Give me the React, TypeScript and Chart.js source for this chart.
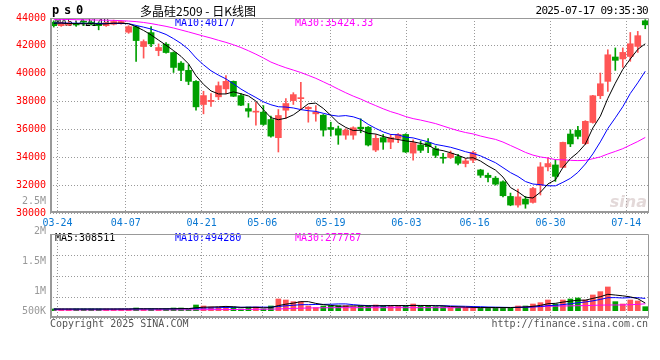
import React, { useEffect, useRef } from 'react';
import { Chart, registerables } from 'chart.js';

Chart.register(...registerables);

// ---------- data ----------
const dates = [
  '03-21','03-24','03-25','03-26','03-27','03-28','03-31','04-01','04-02','04-03',
  '04-07','04-08','04-09','04-10','04-11','04-14','04-15','04-16','04-17','04-18',
  '04-21','04-22','04-23','04-24','04-25','04-28','04-29','04-30','05-06','05-07',
  '05-08','05-09','05-12','05-13','05-14','05-15','05-16','05-19','05-20','05-21',
  '05-22','05-23','05-26','05-27','05-28','05-29','05-30','06-03','06-04','06-05',
  '06-06','06-09','06-10','06-11','06-12','06-13','06-16','06-17','06-18','06-19',
  '06-20','06-23','06-24','06-25','06-26','06-27','06-30','07-01','07-02','07-03',
  '07-04','07-07','07-08','07-09','07-10','07-11','07-14','07-15','07-16','07-17',
];
const labelDates = ['03-24','04-07','04-21','05-06','05-19','06-03','06-16','06-30','07-14'];

const opens = [
  43700,43450,43500,43600,43750,43700,43600,43450,43550,43600,
  42980,43380,41950,42950,41660,42120,41520,40760,40240,39450,
  37790,38000,38340,38910,39450,38430,37500,37240,37240,36710,
  35410,37380,38070,38210,37480,37120,37020,36140,36050,35590,
  35590,36160,36160,34520,35410,35090,35360,35640,34300,34880,
  35050,34620,33980,33980,34050,33550,33790,33090,32710,32500,
  32240,31190,30570,31000,30760,32000,33310,33450,33270,35670,
  35930,34980,36500,38420,39450,41200,41060,41240,41960,43800,
];
const highs = [
  43800,43700,43750,43700,43800,43800,43700,43700,43850,43800,
  43450,43420,42430,43380,42140,42240,41570,40880,40640,39500,
  38740,38570,39410,39860,39480,38570,37860,37950,37710,36950,
  37430,38210,38640,39380,37640,37710,37070,36520,36240,36050,
  36190,36760,36210,35640,35640,35640,35710,35690,35250,35160,
  35340,34810,34290,34450,34210,33910,34450,33140,32860,32620,
  32310,31430,31710,31190,31840,33620,33980,33820,35100,35980,
  36220,36630,38450,40050,41720,41850,41850,42960,43040,43880,
];
const lows = [
  43350,43400,43450,43400,43450,43500,43150,43400,43500,43550,
  42900,40880,41120,41950,41290,41480,40090,39500,39210,37380,
  37120,37660,38140,38570,38360,37710,36880,36310,36290,35450,
  34380,36790,37790,37430,36520,36590,35520,35520,34930,35290,
  35290,35760,34810,34410,34570,34620,35050,34340,33790,34340,
  34340,33980,33570,33910,33450,33310,33620,32550,32240,32000,
  31160,30520,30410,30340,30710,31290,33020,32270,33250,34760,
  35310,34910,36450,38210,38730,40240,40460,40890,41530,43230,
];
const closes = [
  43450,43650,43550,43500,43700,43550,43450,43650,43750,43750,
  43380,42380,42310,42140,41880,41520,40450,40240,39450,37620,
  38430,38090,39140,39450,38380,37740,37310,37310,36360,35520,
  37000,37860,38500,38260,37590,37240,35950,36000,35590,35950,
  36120,36050,34880,35360,35090,35410,35640,34380,35050,34500,
  34760,34140,33930,34290,33570,33740,34340,32710,32550,32070,
  31240,30570,31160,30640,31760,33310,33550,32630,35070,34960,
  35500,36580,38420,39280,41360,40960,41530,42150,42730,43510,
];

const ma5 = [
  43620,43640,43600,43600,43580,43600,43560,43580,43630,43630,
  43590,43376,43107,42786,42412,42046,41660,41246,40707,39856,
  39237,38766,38547,38547,38699,38560,38403,38036,37417,36846,
  36698,36808,37047,37428,37843,37890,37509,37009,36474,36146,
  35923,35943,35719,35671,35500,35357,35276,35176,35114,34996,
  34867,34567,34477,34324,34139,33933,33972,33729,33381,33081,
  32581,31828,31518,31137,31076,31490,32086,32379,33264,33903,
  34341,34947,36106,36947,38229,39320,40310,41056,41746,42149,
];
const ma10 = [
  43640,43640,43630,43630,43620,43620,43610,43610,43610,43605,
  43595,43468,43344,43208,43021,42818,42518,42177,41747,41134,
  40642,40213,39897,39627,39277,38899,38584,38292,37982,37772,
  37629,37606,37541,37423,37344,37294,37159,37028,36951,36994,
  36906,36726,36364,36073,35823,35640,35609,35447,35393,35248,
  35112,34922,34827,34719,34567,34400,34269,34103,33853,33610,
  33257,32900,32624,32259,32079,32036,31957,31949,32201,32489,
  32916,33516,34242,35106,36066,36831,37629,38581,39347,40177,
];
const ma30 = [
  43900,43900,43890,43880,43870,43860,43850,43840,43830,43810,
  43780,43740,43680,43600,43500,43400,43280,43140,43000,42850,
  42700,42560,42400,42250,42080,41880,41650,41400,41130,40837,
  40622,40429,40261,40086,39881,39670,39420,39165,38893,38633,
  38392,38181,37934,37708,37481,37278,37117,36922,36776,36671,
  36549,36418,36244,36072,35911,35778,35679,35526,35399,35284,
  35092,34849,34605,34351,34156,34025,33945,33833,33815,33782,
  33762,33779,33897,34028,34237,34422,34618,34877,35133,35424.33,
];

const volumes = [
  68000,68000,68000,68000,68000,68000,68000,68000,68000,68000,
  68000,108000,68000,68000,68000,68000,108000,108000,68000,230000,
  189000,149000,149000,149000,149000,68000,149000,149000,68000,189000,
  473000,432000,365000,365000,189000,122000,189000,203000,203000,203000,
  162000,203000,203000,230000,203000,203000,203000,189000,270000,189000,
  189000,162000,162000,135000,135000,135000,95000,135000,135000,135000,
  135000,95000,189000,189000,270000,324000,432000,270000,432000,473000,
  513000,432000,635000,770000,959000,365000,270000,432000,392000,162000,
];
const volMa5 = [
  68000,68000,68000,68000,68000,68000,68000,68000,68000,68000,
  68000,76000,76000,76000,76000,76000,76000,84000,84000,116000,
  141000,149000,157000,173000,157000,133000,133000,133000,117000,125000,
  206000,262000,305000,365000,365000,295000,246000,214000,181000,184000,
  192000,195000,195000,200000,200000,208000,208000,206000,214000,211000,
  208000,200000,194000,167000,157000,146000,132000,127000,127000,127000,
  127000,127000,138000,149000,176000,213000,281000,297000,346000,386000,
  424000,424000,497000,565000,662000,632000,600000,559000,484000,308511,
];
const volMa10 = [
  65000,65000,65000,65000,65000,65000,65000,65000,65000,68000,
  68000,72000,72000,72000,72000,72000,76000,80000,80000,96000,
  108000,112000,121000,129000,137000,137000,141000,145000,145000,141000,
  169000,198000,219000,241000,245000,250000,254000,260000,273000,274000,
  243000,220000,204000,191000,192000,200000,202000,200000,207000,206000,
  208000,204000,200000,191000,184000,177000,166000,161000,147000,142000,
  136000,130000,132000,138000,151000,170000,204000,217000,247000,281000,
  319000,352000,397000,455000,524000,528000,512000,528000,524000,494280,
];
const volMa30 = [
  30000,30000,30000,30000,30000,30000,30000,30000,30000,30000,
  32000,32000,32000,32000,34000,34000,34000,36000,36000,38000,
  40000,42000,44000,46000,48000,50000,52000,55000,58000,62000,
  70000,80000,90000,100000,108000,114000,118000,120000,121000,121000,
  121000,121000,121000,121000,121000,121000,121000,121000,121000,121000,
  121000,121000,121000,121000,121000,121000,121000,121000,121000,121000,
  121000,125000,135000,145000,155000,165000,175000,185000,190000,195000,
  200000,205000,215000,225000,230000,230000,232000,240000,255000,277767,
];
const volTicks = [500000, 1000000, 1500000, 2000000, 2500000];

// ---------- styles ----------
const UP = '#ff5555';
const DOWN = '#00a000';
const GRID = '#999999';
const FRAME = '#999999';
const MONO = '"DejaVu Sans Mono", "Liberation Mono", monospace';
const candleColors = opens.map((o, i) => (closes[i] >= o ? UP : DOWN));

const fmtVol = (v: number) => (v >= 1000000 ? `${v / 1000000}M` : `${v / 1000}K`);

const framePlugin = {
  id: 'frame',
  afterDraw(chart: any) {
    const { ctx, chartArea } = chart;
    const { left, top, right, bottom } = chartArea;
    ctx.save();
    ctx.strokeStyle = FRAME;
    ctx.lineWidth = 1;
    ctx.beginPath();
    ctx.moveTo(left, top + 0.5);
    ctx.lineTo(right - 0.5, top + 0.5);
    ctx.lineTo(right - 0.5, bottom);
    ctx.stroke();
    ctx.lineWidth = 2;
    ctx.beginPath();
    ctx.moveTo(left + 1, top);
    ctx.lineTo(left + 1, bottom - 1);
    ctx.lineTo(right, bottom - 1);
    ctx.stroke();
    ctx.restore();
  },
};

function makeLegendPlugin(items: { text: string; color: string; x: number }[], dy: number) {
  return {
    id: 'maLegend',
    beforeDatasetsDraw(chart: any) {
      const { ctx, chartArea } = chart;
      ctx.save();
      ctx.font = `10px ${MONO}`;
      ctx.textBaseline = 'middle';
      ctx.textAlign = 'left';
      items.forEach((it) => {
        ctx.fillStyle = it.color;
        ctx.fillText(it.text, it.x, chartArea.top + dy);
      });
      ctx.restore();
    },
  };
}

const last = (a: number[]) => a[a.length - 1];

const filterDateTicks = (axis: any) => {
  axis.ticks = axis.ticks.filter((t: any) => labelDates.includes(dates[t.value]));
};

export default function App() {
  const mainRef = useRef<HTMLCanvasElement>(null);
  const volRef = useRef<HTMLCanvasElement>(null);

  useEffect(() => {
    const lineDs = (data: number[], color: string, yAxisID: string) => ({
      type: 'line' as const,
      data,
      borderColor: color,
      borderWidth: 1,
      pointRadius: 0,
      tension: 0,
      order: 0,
      yAxisID,
    });

    const watermark = {
      id: 'watermark',
      beforeDatasetsDraw(chart: any) {
        const { ctx, chartArea } = chart;
        ctx.save();
        ctx.font = 'italic bold 16px "DejaVu Sans", sans-serif';
        ctx.fillStyle = 'rgba(200,180,180,0.5)';
        ctx.textAlign = 'right';
        ctx.textBaseline = 'bottom';
        ctx.fillText('sina', chartArea.right - 2, chartArea.bottom - 2);
        ctx.restore();
      },
    };

    const main = new Chart(mainRef.current!, {
      type: 'bar',
      data: {
        labels: dates,
        datasets: [
          lineDs(ma5, '#000000', 'y'),
          lineDs(ma10, '#0000ff', 'y'),
          lineDs(ma30, '#ff00ff', 'y'),
          {
            type: 'bar',
            data: opens.map((o, i) => [o, closes[i]]),
            backgroundColor: candleColors,
            barThickness: 6,
            minBarLength: 1,
            grouped: false,
            order: 1,
            yAxisID: 'y',
          } as any,
          {
            type: 'bar',
            data: lows.map((l, i) => [l, highs[i]]),
            backgroundColor: candleColors,
            barThickness: 1,
            grouped: false,
            order: 2,
            yAxisID: 'y',
          } as any,
        ],
      },
      options: {
        animation: false,
        responsive: false,
        devicePixelRatio: 1,
        layout: { padding: { top: 18, right: 11, left: 0, bottom: 0 } },
        plugins: { legend: { display: false }, tooltip: { enabled: false } },
        scales: {
          x: { type: 'category', display: false, offset: true },
          xd: {
            type: 'category',
            position: 'bottom',
            offset: false,
            grid: { offset: false, color: GRID, drawTicks: false, lineWidth: 1 },
            border: { display: false, dash: [1, 2] },
            ticks: {
              autoSkip: false,
              maxRotation: 0,
              color: '#0a78d2',
              font: { family: MONO, size: 10 },
              padding: 4,
              callback: (v: any) => dates[v as number],
            },
            afterBuildTicks: filterDateTicks,
            afterFit: (axis: any) => {
              axis.height = 19;
            },
          } as any,
          y: {
            type: 'linear',
            position: 'left',
            min: 30000,
            max: 44000,
            ticks: {
              stepSize: 2000,
              color: '#ff0000',
              font: { family: MONO, size: 10 },
              padding: 4,
              callback: (v: any) => String(v),
            },
            grid: { color: GRID, drawTicks: false, lineWidth: 1 },
            border: { display: false, dash: [1, 2] },
            afterFit: (axis: any) => {
              axis.width = 50;
            },
          } as any,
        },
      },
      plugins: [
        watermark,
        makeLegendPlugin(
          [
            { text: `MA5:${last(ma5)}`, color: '#000000', x: 55 },
            { text: `MA10:${last(ma10)}`, color: '#0000ff', x: 175 },
            { text: `MA30:${last(ma30)}`, color: '#ff00ff', x: 295 },
          ],
          5.5,
        ),
        framePlugin,
      ],
    });

    const volLabels = {
      id: 'volLabels',
      afterDraw(chart: any) {
        const { ctx, chartArea, scales } = chart;
        ctx.save();
        ctx.font = `10px ${MONO}`;
        ctx.fillStyle = '#999999';
        ctx.textAlign = 'right';
        ctx.textBaseline = 'middle';
        volTicks.forEach((v) => {
          const y = Math.min(scales.yl.getPixelForValue(v), chartArea.bottom - 7);
          ctx.fillText(fmtVol(v), chartArea.left - 4, y);
        });
        ctx.restore();
      },
    };

    const vol = new Chart(volRef.current!, {
      type: 'bar',
      data: {
        labels: dates,
        datasets: [
          lineDs(volMa5, '#000000', 'yv'),
          lineDs(volMa10, '#0000ff', 'yv'),
          lineDs(volMa30, '#ff00ff', 'yv'),
          {
            type: 'bar',
            data: volumes,
            backgroundColor: candleColors,
            barThickness: 5,
            grouped: false,
            order: 1,
            yAxisID: 'yv',
          } as any,
        ],
      },
      options: {
        animation: false,
        responsive: false,
        devicePixelRatio: 1,
        layout: { padding: { top: 44, right: 11, left: 0, bottom: 0 } },
        plugins: { legend: { display: false }, tooltip: { enabled: false } },
        scales: {
          x: { type: 'category', display: false, offset: true },
          xd: {
            type: 'category',
            position: 'bottom',
            offset: false,
            grid: { offset: false, color: GRID, drawTicks: false, lineWidth: 1 },
            border: { display: false, dash: [1, 2] },
            ticks: { display: false, autoSkip: false },
            afterBuildTicks: filterDateTicks,
            afterFit: (axis: any) => {
              axis.height = 42;
            },
          } as any,
          yg: {
            type: 'linear',
            position: 'left',
            min: 0,
            max: 4,
            ticks: { display: false, stepSize: 1 },
            grid: { color: GRID, drawTicks: false, lineWidth: 1 },
            border: { display: false, dash: [1, 2] },
            afterFit: (axis: any) => {
              axis.width = 50;
            },
          } as any,
          yv: { type: 'linear', display: false, min: -296000, max: 3100000 },
          yl: { type: 'linear', display: false, min: 550000, max: 1950000 },
        },
      },
      plugins: [
        makeLegendPlugin(
          [
            { text: `MA5:${last(volMa5)}`, color: '#000000', x: 55 },
            { text: `MA10:${last(volMa10)}`, color: '#0000ff', x: 175 },
            { text: `MA30:${last(volMa30)}`, color: '#ff00ff', x: 295 },
          ],
          4.5,
        ),
        framePlugin,
        volLabels,
      ],
    });

    return () => {
      main.destroy();
      vol.destroy();
    };
  }, []);

  const txt: React.CSSProperties = { position: 'absolute', whiteSpace: 'pre', margin: 0 };

  return (
    <div
      style={{
        position: 'fixed',
        left: 0,
        top: 0,
        width: 660,
        height: 360,
        background: '#ffffff',
        overflow: 'hidden',
      }}
    >
      <canvas
        ref={mainRef}
        width={660}
        height={232}
        style={{ position: 'absolute', left: 0, top: 0, width: 660, height: 232 }}
      />
      <canvas
        ref={volRef}
        width={660}
        height={170}
        style={{ position: 'absolute', left: 0, top: 190, width: 660, height: 170 }}
      />
      <div
        style={{
          ...txt,
          left: 52,
          top: 3,
          font: `bold 12px ${MONO}`,
          letterSpacing: '-1.2px',
          lineHeight: '15px',
          color: '#000',
        }}
      >
        p s 0
      </div>
      <div
        style={{
          ...txt,
          left: 140,
          top: 3,
          font: '12px "Noto Sans CJK SC", sans-serif',
          lineHeight: '16px',
          color: '#000',
        }}
      >
        多晶硅2509 - 日K线图
      </div>
      <div
        style={{
          ...txt,
          right: 12,
          top: 4,
          font: `11px ${MONO}`,
          letterSpacing: '-0.7px',
          lineHeight: '14px',
          color: '#000',
        }}
      >
        2025-07-17 09:35:30
      </div>
      <div style={{ ...txt, left: 50, top: 317, font: `10px ${MONO}`, lineHeight: '13px', color: '#555' }}>
        Copyright 2025 SINA.COM
      </div>
      <div style={{ ...txt, right: 12, top: 317, font: `10px ${MONO}`, lineHeight: '13px', color: '#555' }}>
        http://finance.sina.com.cn
      </div>
    </div>
  );
}
